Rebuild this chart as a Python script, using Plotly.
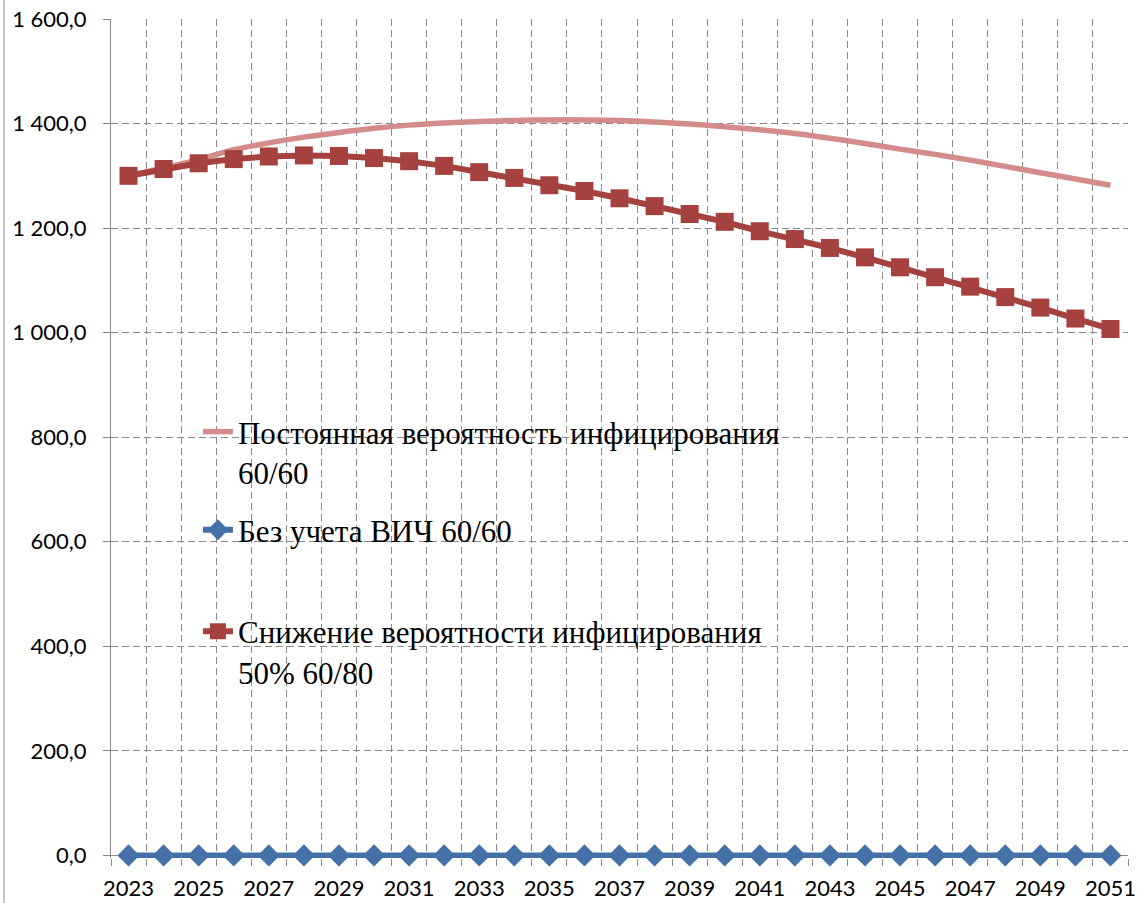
import plotly.graph_objects as go

# Years of the projection
years = list(range(2023, 2052))

# Constant infection probability 60/60
constant_prob = [1300, 1315, 1331, 1350, 1363, 1374, 1383, 1391, 1397, 1401,
                 1404, 1406, 1407, 1407, 1406, 1403, 1399, 1394, 1388, 1381,
                 1372, 1362, 1351, 1341, 1330, 1318, 1306, 1294, 1282]

# Without HIV 60/60
no_hiv = [0.0] * 29

# Infection probability reduced by 50% 60/80
reduced_prob = [1300, 1313, 1324, 1332, 1337, 1339, 1338, 1334, 1328, 1319,
                1307, 1296, 1282, 1271, 1257, 1242, 1227, 1212, 1194, 1179,
                1162, 1144, 1125, 1106, 1088, 1068, 1048, 1027, 1007]

names = ["Постоянная вероятность инфицирования<br>60/60",
         "Без учета ВИЧ 60/60",
         "Снижение вероятности инфицирования<br>50% 60/80"]

y_tickvals = [0, 200, 400, 600, 800, 1000, 1200, 1400, 1600]
y_ticktext = ["0,0", "200,0", "400,0", "600,0", "800,0",
              "1 000,0", "1 200,0", "1 400,0", "1 600,0"]
x_tickvals = list(range(2023, 2052, 2))
x_ticktext = [str(v) for v in x_tickvals]

GRID = "#8A8A8A"
AXIS = "#8A8A8A"

fig = go.Figure()

fig.add_trace(go.Scatter(
    x=years, y=constant_prob, name=names[0], mode="lines",
    line=dict(color="#D48C8B", width=5.5, shape="spline", smoothing=0.8),
    legend="legend",
))
fig.add_trace(go.Scatter(
    x=years, y=no_hiv, name=names[1], mode="lines+markers",
    line=dict(color="#4471A7", width=6),
    marker=dict(symbol="diamond", size=17, color="#4471A7"),
    cliponaxis=False, legend="legend2",
))
fig.add_trace(go.Scatter(
    x=years, y=reduced_prob, name=names[2], mode="lines+markers",
    line=dict(color="#A5423F", width=6),
    marker=dict(symbol="square", size=18, color="#A5423F"),
    cliponaxis=False, legend="legend3",
))

legend_common = dict(
    bgcolor="rgba(0,0,0,0)", borderwidth=0,
    font=dict(family="Liberation Serif", size=31, color="#000000"),
    xanchor="left", yanchor="top", valign="top",
)

fig.update_layout(
    width=1140, height=903,
    margin=dict(l=111, r=12, t=19, b=45, autoexpand=False),
    paper_bgcolor="white", plot_bgcolor="white",
    showlegend=True,
    legend=dict(x=0.0855, y=0.540, **legend_common),
    legend2=dict(x=0.0855, y=0.423, **legend_common),
    legend3=dict(x=0.0855, y=0.302, **legend_common),
    xaxis=dict(
        range=[2022.5, 2051.5], automargin=False,
        tickvals=x_tickvals, ticktext=x_ticktext,
        showgrid=False, ticks="", showline=False, zeroline=False,
        tickfont=dict(family="Lato", size=22, color="#000000"),
        ticklabelstandoff=15,
        minor=dict(
            tickvals=[y - 0.5 for y in years] + [2051.5],
            showgrid=True, gridcolor=GRID, griddash="7px,4px", gridwidth=1,
            ticks="outside", ticklen=7, tickcolor=AXIS, tickwidth=1,
        ),
    ),
    yaxis=dict(
        range=[-5, 1600], automargin=False,
        tickvals=y_tickvals, ticktext=y_ticktext,
        showgrid=True, gridcolor=GRID, griddash="7px,4px", gridwidth=1,
        ticks="outside", ticklen=7, tickcolor=AXIS, tickwidth=1,
        showline=True, linecolor=AXIS, linewidth=1,
        zeroline=True, zerolinecolor=AXIS, zerolinewidth=1,
        tickfont=dict(family="Lato", size=22, color="#000000"),
        ticklabelstandoff=12,
    ),
    shapes=[dict(type="line", xref="paper", yref="paper",
                 x0=-0.1052, x1=-0.1052, y0=-0.1, y1=1.1,
                 line=dict(color="#8C8C8C", width=1))],
)

fig.write_html("out.html")
